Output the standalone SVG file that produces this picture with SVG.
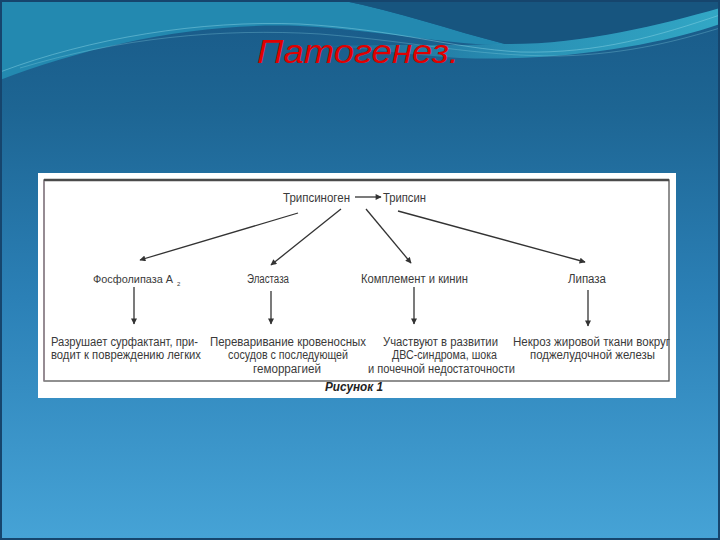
<svg xmlns="http://www.w3.org/2000/svg" width="720" height="540" viewBox="0 0 720 540">
<defs>
<linearGradient id="bg" x1="0" y1="0" x2="0" y2="1">
<stop offset="0" stop-color="#195a88"/>
<stop offset="0.2" stop-color="#1d6593"/>
<stop offset="0.55" stop-color="#2b80b6"/>
<stop offset="1" stop-color="#46a3d6"/>
</linearGradient>
<linearGradient id="swoosh" x1="0" y1="0" x2="1" y2="0">
<stop offset="0" stop-color="#2a9bc0" stop-opacity="0.2"/>
<stop offset="0.5" stop-color="#30a6c6" stop-opacity="0.7"/>
<stop offset="1" stop-color="#35b0cc" stop-opacity="0.9"/>
</linearGradient>
<marker id="ah" viewBox="0 0 10 10" refX="9" refY="5" markerWidth="8" markerHeight="6" markerUnits="userSpaceOnUse" orient="auto">
<path d="M0,0 L10,5 L0,10 Z" fill="#333"/>
</marker>
<style>
.t{font-family:"Liberation Sans Narrow","Liberation Sans",Arial,sans-serif;font-size:12px;fill:#3a3a3a}
.t11{font-family:"Liberation Sans Narrow","Liberation Sans",Arial,sans-serif;font-size:11.5px;fill:#3a3a3a}
.sub{font-family:"Liberation Sans",Arial,sans-serif;font-size:6px;fill:#3a3a3a}
.c{stroke:#333;stroke-width:1.3;fill:none;marker-end:url(#ah)}
</style>
</defs>
<rect width="720" height="540" fill="url(#bg)"/>
<path d="M0,0 H340 C400,12 450,30 505,44 C470,48 380,30 300,26 C200,22 90,45 0,80 Z" fill="#2389b0"/>
<path d="M340,0 H720 V8 C660,25 580,45 505,44 C450,30 400,12 340,0 Z" fill="#17557f"/>
<path d="M505,44 C580,45 660,25 720,8 V24 C660,45 560,62 460,58 C420,56 380,50 330,46 C390,44 450,46 505,44 Z" fill="url(#swoosh)"/>
<path d="M0,72 C90,38 200,20 300,24 C400,30 450,48 520,52 C600,54 660,35 720,15" fill="none" stroke="#8fd6e6" stroke-opacity="0.45" stroke-width="1"/>
<path d="M20,68 C120,38 220,28 320,34 C420,42 470,56 560,56 C630,54 680,40 720,28" fill="none" stroke="#8fd6e6" stroke-opacity="0.3" stroke-width="1"/>
<rect x="1" y="1" width="718" height="538" fill="none" stroke="#16456d" stroke-width="2"/>
<text x="358" y="63" text-anchor="middle" font-family="'Liberation Sans Narrow','Liberation Sans',Arial,sans-serif" font-style="italic" font-size="34" fill="#e00000" textLength="202" lengthAdjust="spacingAndGlyphs">Патогенез.</text>

<rect x="38" y="173" width="638" height="225" fill="#ffffff"/>
<rect x="44" y="180" width="625" height="201" fill="none" stroke="#555" stroke-width="1.3"/>
<line x1="44" y1="180" x2="669" y2="180" stroke="#4a4a4a" stroke-width="2.5"/>
<line x1="44" y1="181" x2="44" y2="381" stroke="#9a8a95" stroke-width="1.3"/>

<g id="connectors">
<line class="c" x1="355" y1="197" x2="381" y2="197"/>
<line class="c" x1="298" y1="213" x2="140" y2="260"/>
<line class="c" x1="341" y1="209" x2="271" y2="265"/>
<line class="c" x1="366" y1="209" x2="411" y2="263"/>
<line class="c" x1="398" y1="211" x2="585" y2="262"/>
<line class="c" x1="134" y1="287" x2="134" y2="324"/>
<line class="c" x1="271" y1="291" x2="271" y2="324"/>
<line class="c" x1="414" y1="287" x2="414" y2="324"/>
<line class="c" x1="588" y1="290" x2="588" y2="326"/>
</g>

<g id="trypsinogen"><text class="t" x="283" y="202" textLength="67" lengthAdjust="spacingAndGlyphs">Трипсиноген</text></g>
<g id="trypsin"><text class="t" x="383" y="202" textLength="43" lengthAdjust="spacingAndGlyphs">Трипсин</text></g>
<g id="phospholipase"><text class="t11" x="93" y="283" textLength="80" lengthAdjust="spacingAndGlyphs">Фосфолипаза А</text><text class="sub" x="177" y="286">2</text></g>
<g id="elastase"><text class="t" x="247" y="283" textLength="42" lengthAdjust="spacingAndGlyphs">Эластаза</text></g>
<g id="complement"><text class="t" x="361" y="283" textLength="107" lengthAdjust="spacingAndGlyphs">Комплемент и кинин</text></g>
<g id="lipase"><text class="t" x="568" y="283" textLength="38" lengthAdjust="spacingAndGlyphs">Липаза</text></g>

<g id="effect-phospholipase">
<text class="t" x="51" y="346" textLength="147" lengthAdjust="spacingAndGlyphs">Разрушает сурфактант, при-</text>
<text class="t" x="51" y="359" textLength="150" lengthAdjust="spacingAndGlyphs">водит к повреждению легких</text>
</g>
<g id="effect-elastase">
<text class="t" x="210" y="346" textLength="156" lengthAdjust="spacingAndGlyphs">Переваривание кровеносных</text>
<text class="t" x="228" y="359" textLength="120" lengthAdjust="spacingAndGlyphs">сосудов с последующей</text>
<text class="t" x="253" y="373" textLength="68" lengthAdjust="spacingAndGlyphs">геморрагией</text>
</g>
<g id="effect-complement">
<text class="t" x="383" y="346" textLength="115" lengthAdjust="spacingAndGlyphs">Участвуют в развитии</text>
<text class="t" x="392" y="359" textLength="105" lengthAdjust="spacingAndGlyphs">ДВС-синдрома, шока</text>
<text class="t" x="368" y="373" textLength="147" lengthAdjust="spacingAndGlyphs">и почечной недостаточности</text>
</g>
<g id="effect-lipase">
<text class="t" x="513" y="346" textLength="157" lengthAdjust="spacingAndGlyphs">Некроз жировой ткани вокруг</text>
<text class="t" x="530" y="359" textLength="125" lengthAdjust="spacingAndGlyphs">поджелудочной железы</text>
</g>
<g id="caption"><text class="t" x="325" y="391" style="font-weight:bold;font-style:italic;fill:#222" textLength="58" lengthAdjust="spacingAndGlyphs">Рисунок 1</text></g>
</svg>
